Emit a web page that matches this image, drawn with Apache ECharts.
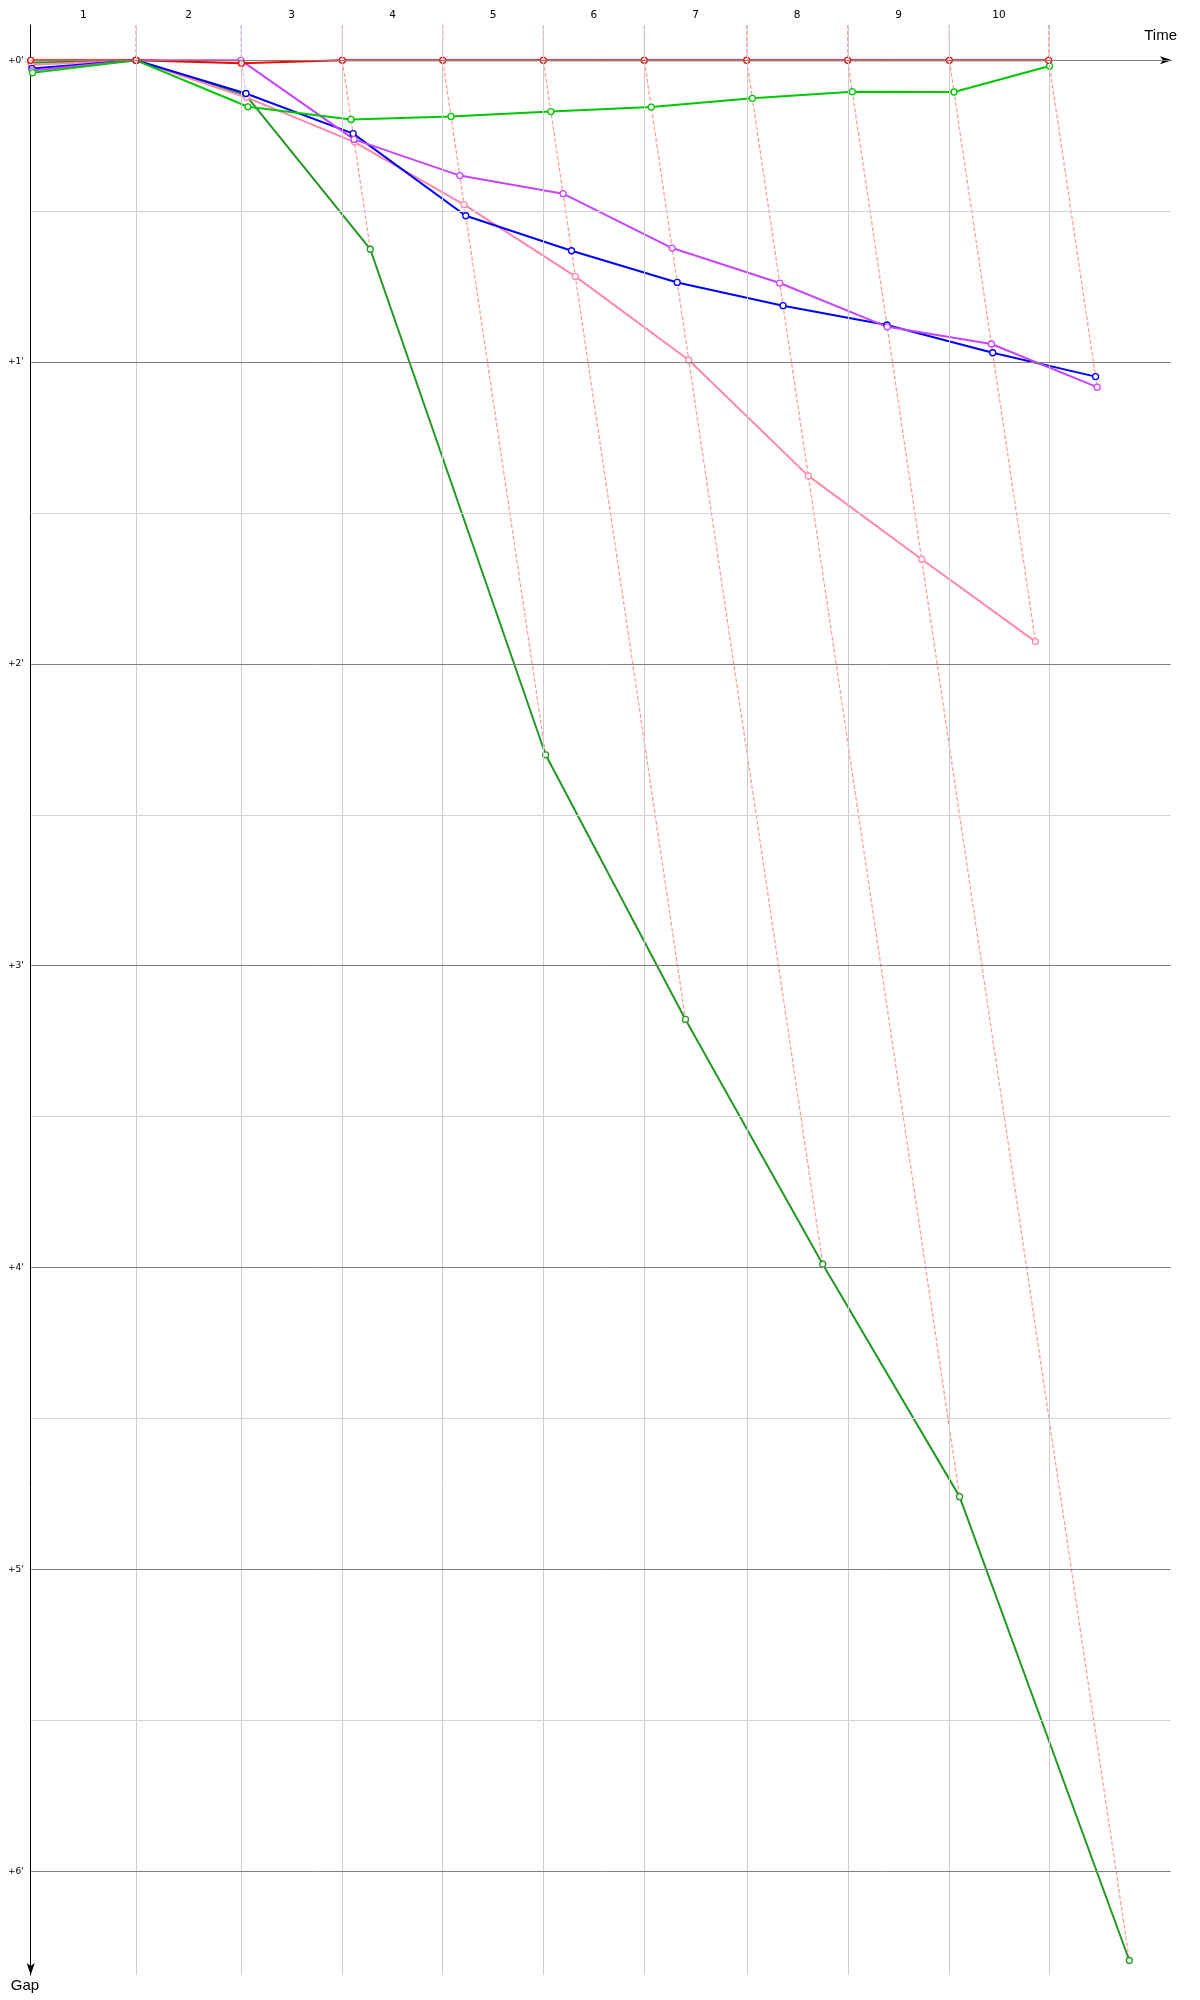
<!DOCTYPE html>
<html>
<head>
<meta charset="utf-8">
<script src="https://cdn.jsdelivr.net/npm/echarts@6/dist/echarts.min.js"></script>
<style>
html,body{margin:0;padding:0;background:#ffffff;}
#chart{width:1200px;height:2000px;}
</style>
</head>
<body>
<div id="chart"></div>
<script>
// Leader's elapsed time (minutes) at the end of each lap (index 0 = start)
const lapTimes = [0, 2.354, 4.702, 6.966, 9.211, 11.460, 13.718, 16.007, 18.265, 20.537, 22.759];
const lapLabels = ['1', '2', '3', '4', '5', '6', '7', '8', '9', '10'];
// Gap axis (minutes)
const gapMajorTicks = [0, 1, 2, 3, 4, 5, 6];
const gapMajorLabels = ["+0'", "+1'", "+2'", "+3'", "+4'", "+5'", "+6'"];
const gapMinorTicks = [0.5, 1.5, 2.5, 3.5, 4.5, 5.5];

// Gap to leader (minutes) per lap, index 0 = start
const gapsRed        = [0, 0, 0.010, 0, 0, 0, 0, 0, 0, 0, 0];
const gapsGreen      = [0.041, 0, 0.154, 0.196, 0.186, 0.170, 0.155, 0.126, 0.104, 0.105, 0.019];
const gapsDarkGreen  = [0.008, 0, 0.117, 0.626, 2.301, 3.178, 3.989, 4.759, 6.296];
const gapsBlue       = [0.027, 0, 0.110, 0.243, 0.515, 0.631, 0.736, 0.813, 0.877, 0.969, 1.048];
const gapsPurple     = [0.034, 0, 0, 0.262, 0.382, 0.442, 0.622, 0.738, 0.883, 0.940, 1.083];
const gapsPink       = [0.015, 0, 0.123, 0.271, 0.478, 0.716, 0.993, 1.377, 1.653, 1.926];

const drivers = [
  {name: 'Red',        color: '#ff0000', gaps: gapsRed},
  {name: 'Green',      color: '#00c800', gaps: gapsGreen},
  {name: 'Dark green', color: '#229922', gaps: gapsDarkGreen},
  {name: 'Blue',       color: '#0000ff', gaps: gapsBlue},
  {name: 'Purple',     color: '#c844ff', gaps: gapsPurple},
  {name: 'Pink',       color: '#ff88a8', gaps: gapsPink}
];
const drawOrder = ['Dark green', 'Pink', 'Blue', 'Purple', 'Green', 'Red'];

const X_MIN = 0, X_MAX = 25.486;
const Y_MIN = -0.117, Y_MAX = 6.344;

function fade(hex, a) {
  const r = parseInt(hex.slice(1, 3), 16), g = parseInt(hex.slice(3, 5), 16), b = parseInt(hex.slice(5, 7), 16);
  return 'rgba(' + r + ',' + g + ',' + b + ',' + a + ')';
}

const lapMids = [];
for (let i = 0; i < lapLabels.length; i++) lapMids.push((lapTimes[i] + lapTimes[i + 1]) / 2);

const series = [];

// grid lines
const gridLines = [];
lapTimes.slice(1).forEach(function (t) {
  gridLines.push({xAxis: t, lineStyle: {color: '#cccccc', width: 1, type: 'solid'}});
});
gapMinorTicks.forEach(function (v) {
  gridLines.push({yAxis: v, lineStyle: {color: '#d4d4d4', width: 1, type: 'solid'}});
});
gapMajorTicks.forEach(function (v) {
  gridLines.push({yAxis: v, lineStyle: {color: '#808080', width: 1, type: 'solid'}});
});
series.push({
  type: 'line', name: 'grid', data: [], silent: true, z: 1,
  markLine: {silent: true, symbol: ['none', 'none'], label: {show: false}, animation: false, data: gridLines}
});

// lap lines (dashed)
for (let lap = 1; lap < lapTimes.length; lap++) {
  const pts = drivers.filter(function (d) { return d.gaps.length > lap; })
    .map(function (d) { return {g: d.gaps[lap], color: d.color}; });
  pts.sort(function (a, b) { return a.g - b.g; });
  const data = [[lapTimes[lap], Y_MIN]].concat(pts.map(function (p) { return [lapTimes[lap] + p.g, p.g]; }));
  series.push({
    type: 'line', name: 'lap ' + lap, data: data, symbol: 'none', silent: true, z: 2,
    lineStyle: {color: fade(pts[0].color, 0.38), width: 1.3, type: [4, 2]}
  });
}

// drivers
drawOrder.forEach(function (nm) {
  const d = drivers.find(function (x) { return x.name === nm; });
  const data = d.gaps.map(function (g, lap) { return [lapTimes[lap] + g, g]; });
  series.push({
    type: 'line', name: d.name, data: data, z: 3,
    symbol: 'circle', symbolSize: 6, showAllSymbol: true,
    itemStyle: {color: '#ffffff', borderColor: d.color, borderWidth: 1.3},
    lineStyle: {color: d.color, width: 2}
  });
});

const chart = echarts.init(document.getElementById('chart'), null, {renderer: 'canvas'});
chart.setOption({
  animation: false,
  backgroundColor: '#ffffff',
  grid: {left: 30.7, top: 25, width: 1140, height: 1950, containLabel: false},
  xAxis: {
    type: 'value', position: 'top', min: X_MIN, max: X_MAX,
    splitLine: {show: false}, axisTick: {show: false},
    axisLine: {show: true, lineStyle: {color: '#000000', width: 1}, symbol: ['none', 'arrow'], symbolSize: [6, 12], symbolOffset: [0, 1.3]},
    axisLabel: {
      customValues: lapMids, margin: 4, color: '#000000', fontSize: 10.5, fontFamily: 'DejaVu Sans',
      formatter: function (v) {
        let best = 0;
        for (let i = 0; i < lapMids.length; i++) if (Math.abs(lapMids[i] - v) < Math.abs(lapMids[best] - v)) best = i;
        return lapLabels[best];
      }
    }
  },
  yAxis: {
    type: 'value', inverse: true, min: Y_MIN, max: Y_MAX,
    splitLine: {show: false}, axisTick: {show: false},
    axisLine: {show: true, onZero: false, lineStyle: {color: '#000000', width: 1}, symbol: ['arrow', 'none'], symbolSize: [6, 12], symbolOffset: [0, 0]},
    axisLabel: {
      customValues: gapMajorTicks, margin: 7, color: '#000000', fontSize: 9, fontFamily: 'DejaVu Sans',
      formatter: function (v) {
        const i = gapMajorTicks.indexOf(Math.round(v));
        return i >= 0 ? gapMajorLabels[i] : '';
      }
    }
  },
  graphic: [
    {type: 'text', x: 1177, y: 35.5, silent: true,
     style: {text: 'Time', fill: '#000000', font: '15px "Liberation Sans", Arial, sans-serif', align: 'right', verticalAlign: 'middle'}},
    {type: 'text', x: 25, y: 1985.5, silent: true,
     style: {text: 'Gap', fill: '#000000', font: '15px "Liberation Sans", Arial, sans-serif', align: 'center', verticalAlign: 'middle'}}
  ],
  series: series
});
</script>
</body>
</html>
